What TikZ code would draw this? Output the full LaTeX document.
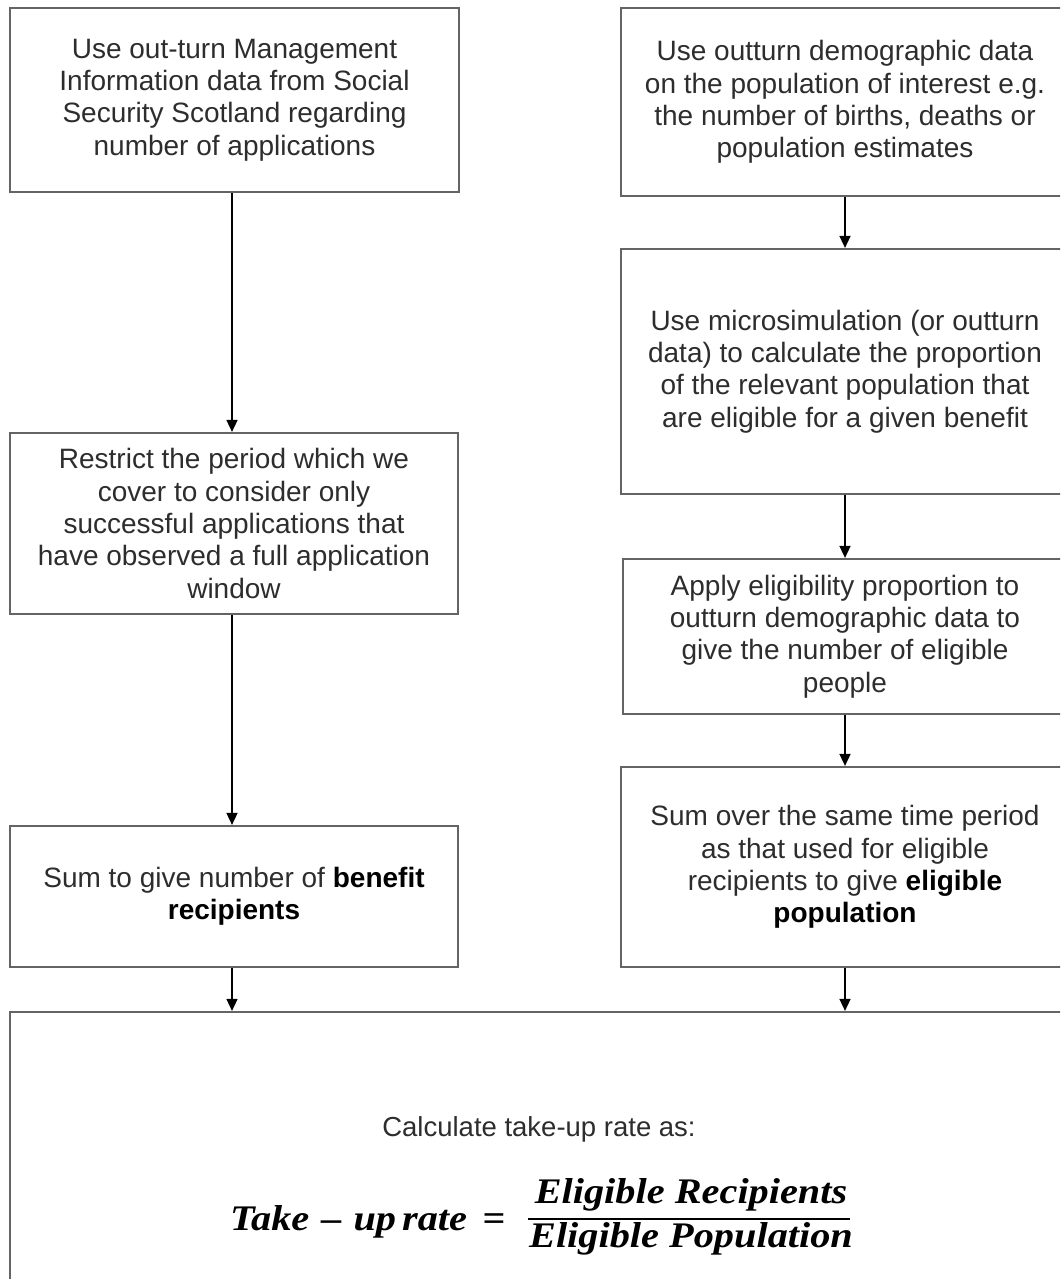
\documentclass[tikz,border=0pt]{standalone}
\usepackage{fontspec}
\setmainfont{Liberation Sans}
\newfontfamily\formfont[FakeStretch=1.12]{Liberation Serif}
\usetikzlibrary{arrows.meta}
\definecolor{boxline}{RGB}{100,100,100}
\definecolor{txt}{RGB}{45,45,45}
\tikzset{
  stepbox/.style={draw=boxline, line width=2.2pt, rectangle, align=center,
    text=txt, inner sep=4pt, font=\fontsize{28}{32.3}\selectfont},
  arr/.style={draw=black, line width=1.6pt, -{Triangle[length=12pt,width=11pt]}},
  formtxt/.style={text=black, inner sep=0pt, font=\fontsize{36}{40}\selectfont\formfont\bfseries\itshape},
  plain/.style={text=txt, inner sep=0pt, font=\fontsize{27.5}{32.3}\selectfont}
}
\newcommand{\bw}[1]{\textcolor{black}{\textbf{#1}}}
\begin{document}
\begin{tikzpicture}[x=1pt,y=-1pt]
\useasboundingbox (0,0) rectangle (1060,1279);
\fill[white] (0,0) rectangle (1060,1279);
\clip (0,0) rectangle (1060,1279);

\node[stepbox, minimum width=449, minimum height=184] (L1) at (234.5,100)
  {Use out-turn Management\\Information data from Social\\Security Scotland regarding\\number of applications};
\node[stepbox, minimum width=448, minimum height=181] (L2) at (234,523.5)
  {Restrict the period which we\\cover to consider only\\successful applications that\\have observed a full application\\window};
\node[stepbox, minimum width=448, minimum height=141] (L3) at (234,896.5)
  {Sum to give number of \bw{benefit}\\\bw{recipients}};

\node[stepbox, minimum width=448, minimum height=188] (R1) at (845,102)
  {Use outturn demographic data\\on the population of interest e.g.\\the number of births, deaths or\\population estimates};
\node[stepbox, minimum width=448, minimum height=245] (R2) at (845,371.5)
  {Use microsimulation (or outturn\\data) to calculate the proportion\\of the relevant population that\\are eligible for a given benefit};
\node[stepbox, minimum width=444, minimum height=155] (R3) at (845,636.5)
  {Apply eligibility proportion to\\outturn demographic data to\\give the number of eligible\\people};
\node[stepbox, minimum width=448, minimum height=200] (R4) at (845,867)
  {Sum over the same time period\\as that used for eligible\\recipients to give \bw{eligible}\\\bw{population}};

\node[stepbox, minimum width=1070, minimum height=288] (B) at (545,1156) {};

\node[plain, anchor=base] (calc) at (539,1136) {Calculate take-up rate as:};
\node[formtxt, anchor=base west] (lhs) at (230,1230) {Take\,\,–\,\,up\,rate};
\node[formtxt, anchor=base] (eq) at (494,1230) {\normalfont\fontsize{36}{40}\selectfont\formfont\bfseries =};
\node[formtxt, anchor=base] (num) at (691,1203) {Eligible Recipients};
\node[formtxt, anchor=base] (den) at (691,1247) {Eligible Population};
\coordinate (f1) at (528,1219);
\coordinate (f2) at (850,1219);
\draw[black, line width=2pt] (f1) -- (f2);

\coordinate (ax) at (232,0);
\draw[arr] (L1.south -| ax) -- (L2.north -| ax);
\draw[arr] (L2.south -| ax) -- (L3.north -| ax);
\draw[arr] (L3.south -| ax) -- (B.north -| ax);

\draw[arr] (R1.south) -- (R2.north);
\draw[arr] (R2.south) -- (R3.north);
\draw[arr] (R3.south) -- (R4.north);
\draw[arr] (R4.south) -- (B.north -| R4.south);
\end{tikzpicture}
\end{document}
